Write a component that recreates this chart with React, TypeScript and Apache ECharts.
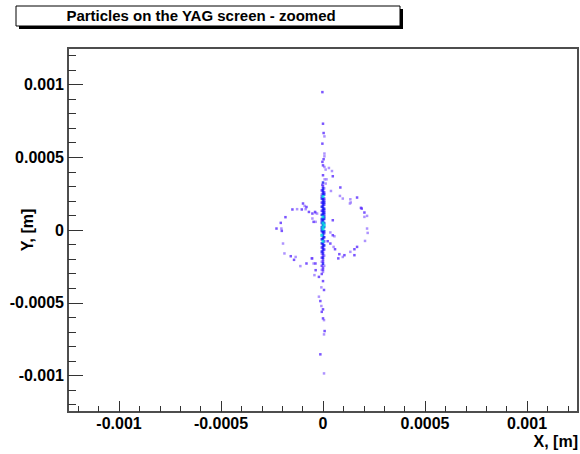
import React, { useEffect, useRef } from "react";
import * as echarts from "echarts";

// Axis ticks (metres)
const xMajorTicks = [-0.001, -0.0005, 0, 0.0005, 0.001];
const xTickLabels = ["-0.001", "-0.0005", "0", "0.0005", "0.001"];
const yMajorTicks = [-0.001, -0.0005, 0, 0.0005, 0.001];
const yTickLabels = ["-0.001", "-0.0005", "0", "0.0005", "0.001"];
const minorTicks = [
  -0.0012, -0.0011, -0.001, -0.0009, -0.0008, -0.0007, -0.0006, -0.0005, -0.0004, -0.0003, -0.0002, -0.0001,
  0, 0.0001, 0.0002, 0.0003, 0.0004, 0.0005, 0.0006, 0.0007, 0.0008, 0.0009, 0.001, 0.0011, 0.0012,
];
const axisMin = -0.00125;
const axisMax = 0.00125;

// Particle hits, in micrometres [x, y], grouped by bin content level
const level1Points: number[][] = [
  [7, 643], [7, 525], [7, 506], [7, 433], [29, 426], [44, 405], [13, 415], [8, 348], [17, 348], [13, 319],
  [6, 286], [-6, 244], [-6, -162], [6, -176], [-6, -218], [6, -246], [-6, -274], [0, -288],
  [-8, -394], [-20, -458], [-8, -522], [5, -619], [5, -717], [5, -985],
  [-29, 113], [-36, 56], [36, -17], [56, -43], [52, -116], [-46, -230], [-42, -310],
  [39, 268], [97, 216], [134, 211], [132, 182], [216, 97], [203, 90], [216, 10], [219, -20], [206, -75],
  [134, -150], [97, -185], [83, 234], [136, 189],
  [-90, 165], [-127, 143], [-85, 143], [-52, 79], [-36, 117], [-204, 10], [-196, -93], [-189, -161],
  [-134, -185], [-111, -248], [-52, -195],
];
const level2Points: number[][] = [
  [-3, 947], [0, 730], [3, 666], [-3, 593], [3, 486], [-3, 468], [0, 444], [0, 376], [48, 369], [-3, 310],
  [0, 300], [-6, 272], [6, 258], [-6, 230], [6, 216], [6, 202], [-6, 188], [6, 174], [-6, 132], [6, 132],
  [6, 104], [-6, 62], [6, -22], [6, -78], [-6, -120], [6, -134], [0, -148], [0, -176], [-6, -190],
  [0, -204], [0, -218], [-6, -246], [0, -260], [0, -274], [-6, -302],
  [0, -351], [5, -412], [-13, -488], [0, -545], [-6, -562], [0, -607], [8, -694], [-13, -854],
  [-39, 124], [-52, 113], [48, 67], [48, -36], [23, -77], [36, -93], [59, -132], [-55, -195], [-36, -276], [-20, -322],
  [85, 292], [167, 223], [186, 152], [203, 120], [167, -116], [154, -132], [154, -173], [105, -173], [80, -166],
  [75, -195], [190, 147],
  [-98, 182], [-81, 158], [-150, 141], [-104, 141], [-69, 124], [-184, 88], [-46, 56], [-207, 49], [-228, 10],
  [-202, -6], [-158, -180], [-142, -205], [-81, -230], [-37, -230],
];
const level3Points: number[][] = [
  [0, 326], [0, 286], [0, 272], [0, 258], [0, 244], [6, 244], [-6, 216], [0, 216], [0, 202], [0, 188],
  [6, 188], [0, 174], [-6, 160], [0, 160], [0, 146], [6, 146], [0, 132], [0, 118], [6, 118], [-6, 104],
  [0, 104], [6, 90], [-6, 76], [0, 76], [6, 76], [0, 62], [-6, 48], [6, 48], [0, 34], [-6, 20], [6, 20],
  [-6, 6], [-6, -8], [0, -8], [6, -8], [0, -22], [0, -36], [0, -50], [6, -50], [-6, -64], [0, -64],
  [-6, -92], [0, -92], [0, -106], [6, -106], [0, -120], [0, -134], [-6, -148], [0, -162], [0, -190],
  [0, -232],
];
const level4Points: number[][] = [
  [0, 230], [0, 90], [0, 48], [6, 34], [0, 20], [0, 6], [-6, -36], [0, -78],
];

const levelColors = ["#9a78ff", "#5a2cff", "#1414f5", "#00dcdc"];
const FONT = "'Liberation Sans', Arial, Helvetica, sans-serif";

const toMetres = (pts: number[][]) => pts.map((p) => [p[0] * 1e-6, p[1] * 1e-6]);

function labelFor(ticks: number[], labels: string[]) {
  return (v: number) => {
    const i = ticks.findIndex((t) => Math.abs(t - v) < 1e-9);
    return i >= 0 ? labels[i] : "";
  };
}

export default function App() {
  const ref = useRef<HTMLDivElement>(null);

  useEffect(() => {
    if (!ref.current) return;
    const chart = echarts.init(ref.current, null, { renderer: "svg" });
    const labelStyle = {
      color: "#000",
      fontFamily: FONT,
      fontWeight: "bold" as const,
      fontSize: 16,
    };
    const levels = [level1Points, level2Points, level3Points, level4Points];
    chart.setOption({
      animation: false,
      backgroundColor: "#ffffff",
      grid: {
        left: 68,
        right: 2,
        top: 48,
        bottom: 42,
        show: true,
        borderColor: "#4d4d4d",
        borderWidth: 2,
        backgroundColor: "transparent",
      },
      xAxis: [
        {
          type: "value",
          min: axisMin,
          max: axisMax,
          position: "bottom",
          axisLine: { show: true, onZero: false, lineStyle: { color: "#4d4d4d", width: 2 } },
          axisTick: {
            show: true,
            inside: true,
            length: 11,
            customValues: xMajorTicks,
            lineStyle: { color: "#333", width: 1 },
          },
          axisLabel: {
            ...labelStyle,
            customValues: xMajorTicks,
            formatter: labelFor(xMajorTicks, xTickLabels),
            margin: 3,
          },
          splitLine: { show: false },
        },
        {
          type: "value",
          min: axisMin,
          max: axisMax,
          position: "bottom",
          axisLine: { show: false, onZero: false },
          axisTick: {
            show: true,
            inside: true,
            length: 6,
            customValues: minorTicks,
            lineStyle: { color: "#333", width: 1 },
          },
          axisLabel: { show: false },
          splitLine: { show: false },
        },
      ],
      yAxis: [
        {
          type: "value",
          min: axisMin,
          max: axisMax,
          position: "left",
          axisLine: { show: true, onZero: false, lineStyle: { color: "#4d4d4d", width: 2 } },
          axisTick: {
            show: true,
            inside: true,
            length: 15,
            customValues: yMajorTicks,
            lineStyle: { color: "#333", width: 1 },
          },
          axisLabel: {
            ...labelStyle,
            customValues: yMajorTicks,
            formatter: labelFor(yMajorTicks, yTickLabels),
            margin: 4,
          },
          splitLine: { show: false },
        },
        {
          type: "value",
          min: axisMin,
          max: axisMax,
          position: "left",
          axisLine: { show: false, onZero: false },
          axisTick: {
            show: true,
            inside: true,
            length: 8,
            customValues: minorTicks,
            lineStyle: { color: "#333", width: 1 },
          },
          axisLabel: { show: false },
          splitLine: { show: false },
        },
      ],
      series: levels.map((pts, i) => ({
        type: "scatter",
        xAxisIndex: 0,
        yAxisIndex: 0,
        symbol: "rect",
        symbolSize: i === 3 ? 3 : 2.5,
        itemStyle: { color: levelColors[i] },
        data: toMetres(pts),
        silent: true,
      })),
      graphic: [
        {
          type: "rect",
          shape: { x: 19, y: 9, width: 384, height: 20 },
          style: { fill: "#000" },
          silent: true,
        },
        {
          type: "rect",
          shape: { x: 16, y: 6, width: 384, height: 20 },
          style: { fill: "#fff", stroke: "#000", lineWidth: 1 },
          silent: true,
        },
        {
          type: "text",
          x: 201,
          y: 15,
          style: {
            text: "Particles on the YAG screen - zoomed",
            align: "center",
            verticalAlign: "middle",
            fill: "#000",
            font: `bold 15px ${FONT}`,
          },
          silent: true,
        },
        {
          type: "text",
          x: 578,
          y: 441,
          style: {
            text: "X, [m]",
            align: "right",
            verticalAlign: "middle",
            fill: "#000",
            font: `bold 16px ${FONT}`,
          },
          silent: true,
        },
        {
          type: "text",
          x: 27,
          y: 230,
          rotation: Math.PI / 2,
          style: {
            text: "Y, [m]",
            align: "center",
            verticalAlign: "middle",
            fill: "#000",
            font: `bold 16px ${FONT}`,
          },
          silent: true,
        },
      ],
    });
    return () => chart.dispose();
  }, []);

  return (
    <div
      ref={ref}
      style={{ position: "absolute", left: 0, top: 0, width: 580, height: 454 }}
    />
  );
}
